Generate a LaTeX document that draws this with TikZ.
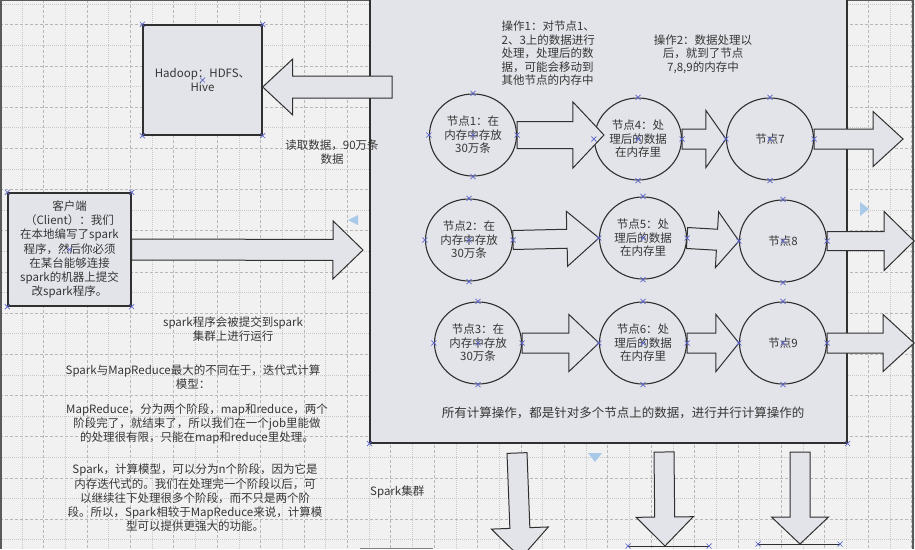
\documentclass[tikz,border=0pt]{standalone}
\usepackage{fontspec}
\setmainfont{Noto Sans CJK SC}
\usetikzlibrary{calc,shapes.geometric}
\definecolor{bgc}{HTML}{F1F1F1}
\definecolor{gridc}{HTML}{C8C8C8}
\definecolor{shapec}{HTML}{E3E4E9}
\definecolor{linec}{HTML}{303030}
\definecolor{txtc}{HTML}{363636}
\definecolor{xc}{HTML}{5A64C8}
\definecolor{handc}{HTML}{A9C9E9}
% block arrow: start, tip, shaft half width, head half width, head length
\newcommand{\barr}[5]{%
  \path (#2) coordinate (bt) ($(#2)!#5!(#1)$) coordinate (bh);
  \draw[blockarrow] ($(#1)!#3!90:(bt)$) -- ($(bh)!#3!90:(bt)$) -- ($(bh)!#4!90:(bt)$) -- (bt)
     -- ($(bh)!#4!-90:(bt)$) -- ($(bh)!#3!-90:(bt)$) -- ($(#1)!#3!-90:(bt)$) -- cycle;}
\newcommand{\xmk}[1]{\draw[xmark] (#1) +(-2.5,-2.5) -- +(2.5,2.5) (#1) +(-2.5,2.5) -- +(2.5,-2.5);}
\begin{document}
\begin{tikzpicture}[x=1pt,y=-1pt,
  font=\fontsize{11.5}{13.5}\selectfont,
  txt/.style={text=txtc, align=center, inner sep=0pt},
  box/.style={draw=linec, line width=1.4pt, fill=shapec, text=txtc, align=center, inner sep=0pt},
  circ/.style={ellipse, draw=linec, line width=1.1pt, fill=shapec, minimum width=87pt, minimum height=82pt, inner sep=0pt, align=center, text=txtc},
  blockarrow/.style={draw=linec, line width=1pt, fill=shapec, line join=miter},
  xmark/.style={draw=xc, line width=0.7pt},
  gmin/.style={draw=gridc, line width=0.4pt, dash pattern=on 1pt off 1pt},
  gmaj/.style={draw=gridc!92!black, line width=0.5pt, dash pattern=on 3pt off 2pt},
  handle/.style={fill=handc, draw=none}]
\useasboundingbox (0,0) rectangle (915,549);
\fill[bgc] (0,0) rectangle (915,549);
% grid
\foreach \k in {1,...,42}{%
  \pgfmathsetmacro\gx{21.7*\k}
  \ifodd\k\relax \draw[gmin] (\gx,0) -- (\gx,549); \else \draw[gmaj] (\gx,0) -- (\gx,549); \fi}
\foreach \k in {0,...,26}{%
  \pgfmathsetmacro\gy{4+20.6*\k}
  \ifodd\k\relax \draw[gmaj] (0,\gy) -- (915,\gy); \else \draw[gmin] (0,\gy) -- (915,\gy); \fi}
% frame
\draw[linec!80, line width=1.2pt] (1,549) -- (1,0.6) -- (913,0.6) -- (913,549);
% cluster
\node[draw=linec, line width=1.1pt, fill=shapec, minimum width=477pt, minimum height=446pt, inner sep=0pt] (cluster) at (608.5,220) {};
% boxes
\node[box, minimum width=119pt, minimum height=110pt] (hadoop) at (202.5,80) {Hadoop：HDFS、\\Hive};
\node[box, minimum width=123pt, minimum height=113pt, font=\fontsize{11.5}{14.2}\selectfont] (client) at (69.5,249.5)
  {客户端\\（Client）：我们\\在本地编写了spark\\程序，然后你必须\\在某台能够连接\\spark的机器上提交\\改spark程序。};
% circles
\node[circ] (c1) at (473,135) {节点1：在\\内存中存放\\30万条};
\node[circ] (c4) at (638,139) {节点4：处\\理后的数据\\在内存里};
\node[circ] (c7) at (770,139) {节点7};
\node[circ] (c2) at (469,240) {节点2：在\\内存中存放\\30万条};
\node[circ] (c5) at (643,238) {节点5：处\\理后的数据\\在内存里};
\node[circ] (c8) at (783,241) {节点8};
\node[circ] (c3) at (478,343) {节点3：在\\内存中存放\\30万条};
\node[circ] (c6) at (643,343) {节点6：处\\理后的数据\\在内存里};
\node[circ] (c9) at (783,343) {节点9};
% free arrow ends
\coordinate (t1) at ($(c4.west)+(10,-4)$);
\coordinate (t3) at ($(c7.east)+(89,0)$);
\coordinate (t6) at ($(c8.east)+(87,0)$);
\coordinate (t9) at ($(c9.east)+(87,0)$);
\coordinate (ct) at (363,250);
\coordinate (hs) at (392,87);
\coordinate (ht) at ($(hadoop.east)+(0,7)$);
\coordinate (b1s) at (517,453);
\coordinate (b1t) at (521,558);
\coordinate (b2s) at (664,452);
\coordinate (b2t) at (665,546);
\coordinate (b3s) at (800,452);
\coordinate (b3t) at (800,544);
% arrows
\barr{c1.east}{t1}{13.5pt}{33pt}{31pt}
\barr{c4.east}{c7.west}{10pt}{28.5pt}{20pt}
\barr{c7.east}{t3}{10pt}{27.5pt}{30pt}
\barr{c2.east}{c5.west}{9.5pt}{27.5pt}{32pt}
\barr{c5.east}{c8.west}{10.5pt}{28pt}{22pt}
\barr{c8.east}{t6}{9.5pt}{29.5pt}{30pt}
\barr{c3.east}{c6.west}{10pt}{28.5pt}{30pt}
\barr{c6.east}{c9.west}{10pt}{28.5pt}{23pt}
\barr{c9.east}{t9}{10pt}{28.5pt}{31pt}
\barr{client.east}{ct}{10.5pt}{29pt}{30pt}
\barr{hs}{ht}{11pt}{28pt}{30pt}
\barr{b1s}{b1t}{10pt}{28.5pt}{30pt}
\barr{b2s}{b2t}{10pt}{28.5pt}{29pt}
\barr{b3s}{b3t}{10pt}{28.5pt}{27pt}
% cut-off shapes at the bottom
\coordinate (l1a) at (628,546); \coordinate (l1b) at (709,546);
\coordinate (l2a) at (758,544); \coordinate (l2b) at (840,544);
\draw[linec, line width=1pt] (l1a) -- (l1b);
\draw[linec, line width=1pt] (l2a) -- (l2b);
\draw[gray, line width=0.8pt] (360,548) -- (433,548);
% texts
\node[txt] (tread) at (332,152) {读取数据，90万条\\数据};
\node[txt] (tsub) at (233,329) {spark程序会被提交到spark\\集群上进行运行};
\node[txt] (tdiff) at (193,377) {Spark与MapReduce最大的不同在于，迭代式计算\\模型：};
\node[txt, font=\fontsize{11.5}{14}\selectfont] (tmr) at (197,424) {MapReduce，分为两个阶段，map和reduce，两个\\阶段完了，就结束了，所以我们在一个job里能做\\的处理很有限，只能在map和reduce里处理。};
\node[txt, font=\fontsize{11.5}{14.2}\selectfont] (tspark) at (195,498) {Spark，计算模型，可以分为n个阶段，因为它是\\内存迭代式的。我们在处理完一个阶段以后，可\\以继续往下处理很多个阶段，而不只是两个阶\\段。所以，Spark相较于MapReduce来说，计算模\\型可以提供更强大的功能。};
\node[txt, anchor=west] (tclu) at (370,492) {Spark集群};
\node[txt, align=left, anchor=west] (top1) at (501.5,53.5) {操作1：对节点1、\\2、3上的数据进行\\处理，处理后的数\\据，可能会移动到\\其他节点的内存中};
\node[txt] (top2) at (703,54) {操作2：数据处理以\\后，就到了节点\\7,8,9的内存中};
\node[txt, font=\fontsize{12.5}{14}\selectfont] (tall) at (623,413) {所有计算操作，都是针对多个节点上的数据，进行并行计算操作的};
% handles
\fill[handle] (358,215) -- (358,225) -- (348,220) -- cycle;
\fill[handle] (860,202) -- (860,216) -- (869,209) -- cycle;
\fill[handle] (588,453) -- (602,453) -- (595,462) -- cycle;
% connection marks
\foreach \n in {hadoop,client}{\foreach \a in {north west,north east,south west,south east,center}{\xmk{\n.\a}}}
\foreach \n in {c1,c2,c3,c4,c5,c6,c7,c8,c9}{\foreach \a in {north,south,east,west,center}{\xmk{\n.\a}}}
\xmk{cluster.south west} \xmk{cluster.south east}
\xmk{l1a} \xmk{l1b} \xmk{l2a} \xmk{l2b}
\end{tikzpicture}
\end{document}
